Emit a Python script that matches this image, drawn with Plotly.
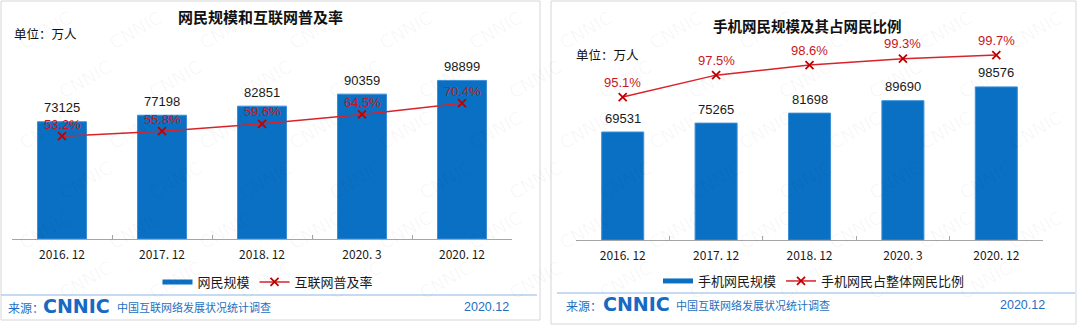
import plotly.graph_objects as go

W, H = 1080, 327

categories = ["2016. 12", "2017. 12", "2018. 12", "2020. 3", "2020. 12"]
netizens = [73125, 77198, 82851, 90359, 98899]
penetration = [0.532, 0.558, 0.596, 0.645, 0.704]
mobile_netizens = [69531, 75265, 81698, 89690, 98576]
mobile_share = [0.951, 0.975, 0.986, 0.993, 0.997]

left_title = "网民规模和互联网普及率"
right_title = "手机网民规模及其占网民比例"
unit_text = "单位：万人"
left_legend = ["网民规模", "互联网普及率"]
right_legend = ["手机网民规模", "手机网民占整体网民比例"]
source_label = "来源："
logo_text = "CNNIC"
survey_text = "中国互联网络发展状况统计调查"
date_text = "2020.12"

BLUE = "#0A70C3"
RED = "#D9232A"
RED_TXT = "#C8161D"
FOOT_BLUE = "#1E6FC0"
CJK = "Noto Sans CJK SC"
NUM = "Liberation Sans, Arial, Noto Sans CJK SC"


def px(x):
    return x / W


def py(y):
    return 1 - y / H


fig = go.Figure()

line_style = dict(color=RED, width=1.5)
marker_style = dict(symbol="x-thin", size=8, line=dict(color="#C00000", width=1.8))

for xa, ya, ya2, vals, pcts, names, lg, bw in [
    ("x", "y", "y2", netizens, penetration, left_legend, "legend", 0.49),
    ("x3", "y3", "y4", mobile_netizens, mobile_share, right_legend, "legend2", 0.45),
]:
    # legend entry drawn as a flat wide bar, like the original
    fig.add_trace(go.Scatter(x=[None], y=[None], mode="lines", name=names[0],
                             line=dict(color=BLUE, width=5), xaxis=xa, yaxis=ya, legend=lg,
                             hoverinfo="skip"))
    fig.add_trace(go.Bar(x=categories, y=vals, name=names[0], width=bw, showlegend=False,
                         marker=dict(color=BLUE, line=dict(color="#3C8FD6", width=1)),
                         xaxis=xa, yaxis=ya))
    fig.add_trace(go.Scatter(x=categories, y=pcts, name=names[1], mode="lines+markers",
                             line=line_style, marker=marker_style,
                             xaxis=xa, yaxis=ya2, legend=lg))

annotations = []
# faint diagonal watermark, kept inside the panels
for r in range(6):
    for c in range(12):
        wx = 45 + c * 90 + (r % 2) * 40
        wy = 30 + r * 50
        if wx > 1035:
            continue
        annotations.append(dict(xref="paper", yref="paper", x=px(wx), y=py(wy),
                                xanchor="center", yanchor="middle",
                                text="CNNIC", showarrow=False, textangle=-30,
                                font=dict(family="DejaVu Sans", size=18, color="rgba(0,0,0,0.035)")))

for cat, v in zip(categories, netizens):
    annotations.append(dict(xref="x", yref="y", x=cat, y=v, text=str(v), showarrow=False,
                            xanchor="center", yanchor="middle",
                            yshift=14, font=dict(family=NUM, size=13, color="#1a1a1a")))
for cat, p in zip(categories, penetration):
    annotations.append(dict(xref="x", yref="y2", x=cat, y=p, text=f"{p*100:.1f}%", showarrow=False,
                            xanchor="center", yanchor="middle",
                            yshift=12, font=dict(family=NUM, size=13, color=RED_TXT)))
for cat, v in zip(categories, mobile_netizens):
    annotations.append(dict(xref="x3", yref="y3", x=cat, y=v, text=str(v), showarrow=False,
                            xanchor="center", yanchor="middle",
                            yshift=14, font=dict(family=NUM, size=13, color="#1a1a1a")))
for cat, p in zip(categories, mobile_share):
    annotations.append(dict(xref="x3", yref="y4", x=cat, y=p, text=f"{p*100:.1f}%", showarrow=False,
                            xanchor="center", yanchor="middle",
                            yshift=15, font=dict(family=NUM, size=13, color=RED_TXT)))

# titles and unit labels
annotations += [
    dict(xref="paper", yref="paper", x=px(260), y=py(17), xanchor="center", yanchor="middle",
         text=f"<b>{left_title}</b>", showarrow=False, font=dict(family=CJK, size=15, color="#111")),
    dict(xref="paper", yref="paper", x=px(807), y=py(25), xanchor="center", yanchor="middle",
         text=f"<b>{right_title}</b>", showarrow=False, font=dict(family=CJK, size=14.5, color="#111")),
    dict(xref="paper", yref="paper", x=px(12), y=py(33), xanchor="left", yanchor="middle",
         text=unit_text, showarrow=False, font=dict(family=CJK, size=12.5, color="#111")),
    dict(xref="paper", yref="paper", x=px(574), y=py(54), xanchor="left", yanchor="middle",
         text=unit_text, showarrow=False, font=dict(family=CJK, size=12.5, color="#111")),
]

# footers
for (x_src, x_logo, x_survey, x_date, y_f) in [(6, 41, 115, 511, 307), (564, 601, 674, 1047, 305)]:
    annotations += [
        dict(xref="paper", yref="paper", x=px(x_src), y=py(y_f), xanchor="left", yanchor="middle",
             text=source_label, showarrow=False, font=dict(family=CJK, size=12, color=FOOT_BLUE)),
        dict(xref="paper", yref="paper", x=px(x_logo), y=py(y_f - 1), xanchor="left", yanchor="middle",
             text=f"<b>{logo_text}</b>", showarrow=False,
             font=dict(family="DejaVu Sans", size=19, color="#1769C2")),
        dict(xref="paper", yref="paper", x=px(x_survey), y=py(y_f), xanchor="left", yanchor="middle",
             text=survey_text, showarrow=False, font=dict(family=CJK, size=11, color=FOOT_BLUE)),
        dict(xref="paper", yref="paper", x=px(x_date), y=py(y_f), xanchor="right", yanchor="middle",
             text=date_text, showarrow=False, font=dict(family=NUM, size=12.5, color=FOOT_BLUE)),
    ]

shapes = [
    dict(type="rect", xref="paper", yref="paper", x0=px(1), x1=px(540), y0=py(320), y1=py(1),
         line=dict(color="#D6D6D6", width=1)),
    dict(type="rect", xref="paper", yref="paper", x0=px(551), x1=px(1076), y0=py(324), y1=py(1),
         line=dict(color="#D6D6D6", width=1)),
    dict(type="line", xref="paper", yref="paper", x0=px(1), x1=px(537), y0=py(295), y1=py(295),
         line=dict(color="#8DB8E6", width=1.2)),
    dict(type="line", xref="paper", yref="paper", x0=px(557), x1=px(1075), y0=py(293), y1=py(293),
         line=dict(color="#8DB8E6", width=1.2)),
]

xcommon = dict(type="category", showline=True, linecolor="#A6A6A6", linewidth=1, ticks="inside",
               tickson="boundaries", ticklen=4, tickcolor="#A6A6A6", showgrid=False, zeroline=False,
               tickfont=dict(family=CJK, size=12, color="#1a1a1a"), ticklabelstandoff=5, fixedrange=True)

legend_common = dict(orientation="h", xanchor="center", yanchor="middle", bgcolor="rgba(0,0,0,0)",
                     font=dict(family=CJK, size=13, color="#1a1a1a"), itemwidth=30, traceorder="normal")

fig.update_layout(
    width=W, height=H, margin=dict(l=0, r=0, t=0, b=0),
    paper_bgcolor="white", plot_bgcolor="rgba(0,0,0,0)",
    showlegend=True,
    xaxis=dict(domain=[px(12), px(512)], anchor="y", **xcommon),
    yaxis=dict(domain=[py(239), py(45)], range=[0, 121000], visible=False, anchor="x"),
    yaxis2=dict(overlaying="y", range=[-0.004, 1.007], visible=False, anchor="x"),
    xaxis3=dict(domain=[px(576), px(1043)], anchor="y3", **xcommon),
    yaxis3=dict(domain=[py(240), py(45)], range=[0, 125560], visible=False, anchor="x3"),
    yaxis4=dict(overlaying="y3", range=[0.7944, 1.008], visible=False, anchor="x3"),
    legend=dict(x=px(268), y=py(282), **legend_common),
    legend2=dict(x=px(814), y=py(281), **legend_common),
    annotations=annotations, shapes=shapes,
)

fig.write_html("out.html")
